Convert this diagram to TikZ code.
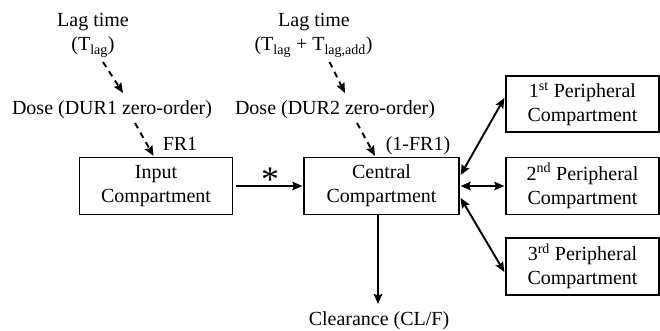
\documentclass[tikz,border=0pt]{standalone}
\usepackage{fontspec}
\setmainfont{Liberation Serif}
\usetikzlibrary{arrows.meta,calc}
\begin{document}
\begin{tikzpicture}[x=1pt,y=-1pt,
  every node/.style={font=\fontsize{20}{24}\selectfont},
  box/.style={draw,line width=1.2pt,minimum width=153pt,minimum height=57pt,
    align=center,inner sep=0pt,execute at begin node={\rule{0pt}{21pt}}},
  lbl/.style={anchor=base,inner sep=0pt},
  tip/.style={-{Stealth[length=10pt,width=8.5pt,inset=1.5pt]}},
  arr/.style={line width=1.9pt,tip},
  darr/.style={line width=1.9pt,dash pattern=on 6pt off 5pt,tip},
  dbl/.style={line width=1.9pt,{Stealth[length=10pt,width=8.5pt,inset=1.5pt]}-{Stealth[length=10pt,width=8.5pt,inset=1.5pt]}}]
\useasboundingbox (0,0) rectangle (660,331);
% boxes
\node[box] (inp) at (156,186) {Input\\Compartment};
\node[box,minimum width=155pt] (cen) at (381.5,186) {Central\\Compartment};
\node[box,minimum height=56pt] (p1) at (582.5,104) {1\textsuperscript{st} Peripheral\\Compartment};
\node[box] (p2) at (582.5,186) {2\textsuperscript{nd} Peripheral\\Compartment};
\node[box] (p3) at (582.5,266.5) {3\textsuperscript{rd} Peripheral\\Compartment};
% labels
\node[lbl] (lag1) at (93,27) {Lag time};
\node[lbl] (tlag1) at (93,51) {(T\textsubscript{lag})};
\node[lbl] (dose1) at (112,115) {Dose (DUR1 zero-order)};
\node[lbl] (fr1) at (180,150) {FR1};
\node[lbl] (lag2) at (314,27) {Lag time};
\node[lbl] (tlag2) at (313.5,51) {(T\textsubscript{lag} + T\textsubscript{lag,add})};
\node[lbl] (dose2) at (335,115) {Dose (DUR2 zero-order)};
\node[lbl] (fr2) at (418,150) {(1-FR1)};
\node[lbl,font=\fontsize{36}{36}\selectfont] (ast) at (270,191) {*};
\node[lbl] (clr) at (379,325) {Clearance (CL/F)};
% dashed dose arrows
\draw[darr] ($(tlag1.base)+(10,11)$) -- ($(dose1.base)+(11,-22)$);
\draw[darr] ($(dose1.base)+(23,8)$) -- ($(inp.north)+(-2.5,-1)$);
\draw[darr] ($(tlag2.base)+(16,11)$) -- ($(dose2.base)+(10,-22)$);
\draw[darr] ($(dose2.base)+(22,8)$) -- ($(cen.north)+(-6.5,-1)$);
% transfer
\draw[arr,shorten <=3pt,shorten >=1pt] (inp.east) -- (cen.west);
\draw[dbl] ($(cen.east)+(1,-11)$) -- ($(p1.west)+(-1,-6)$);
\draw[dbl,shorten <=1pt,shorten >=1pt] (cen.east) -- (p2.west);
\draw[dbl] ($(cen.east)+(1,12)$) -- ($(p3.west)+(-1,5.5)$);
\draw[arr] ($(cen.south)+(-3.5,0)$) -- ($(clr.base)+(-1,-21)$);
\end{tikzpicture}
\end{document}
